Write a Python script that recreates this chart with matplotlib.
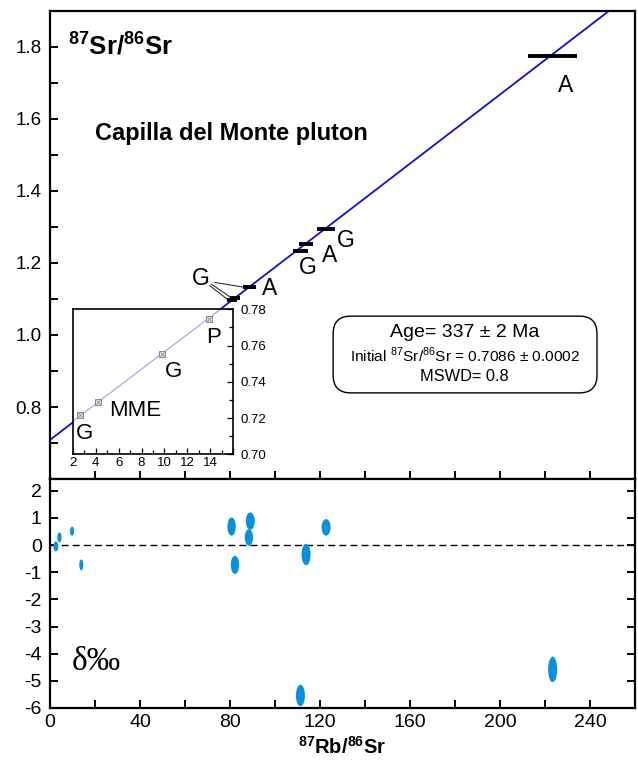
import matplotlib
matplotlib.use("Agg")
import matplotlib.pyplot as plt
import numpy as np
from matplotlib.patches import Ellipse, FancyBboxPatch
from matplotlib.ticker import MultipleLocator, FuncFormatter

plt.rcParams['font.family'] = ['Liberation Sans', 'DejaVu Sans']
plt.rcParams['axes.unicode_minus'] = False
plt.rcParams['mathtext.fontset'] = 'custom'
plt.rcParams['mathtext.rm'] = 'Liberation Sans'
plt.rcParams['mathtext.bf'] = 'Liberation Sans:bold'

# ---- data ----
rb_sr = [2.6, 4.2, 9.8, 13.9, 80.7, 82.2, 88.4, 89.0, 111.3, 113.8, 122.7, 223.4]
sr_sr = [0.7215, 0.7290, 0.7555, 0.7745, 1.0965, 1.1020, 1.1320, 1.1345,
         1.2345, 1.2540, 1.2950, 1.7760]
rb_err = [0.1, 0.1, 0.1, 0.1, 2.2, 2.2, 2.6, 2.6, 3.5, 3.3, 4.0, 11.0]
delta = [-0.05, 0.28, 0.51, -0.73, 0.68, -0.73, 0.28, 0.88, -5.54, -0.35, 0.65, -4.58]
delta_w = [2.2, 1.9, 1.8, 1.8, 3.7, 3.7, 3.7, 4.0, 4.0, 4.0, 4.0, 4.0]
delta_h = [0.37, 0.37, 0.34, 0.40, 0.67, 0.67, 0.61, 0.64, 0.79, 0.79, 0.61, 0.94]

initial_ratio = 0.7086
age_ma = 337
decay_const = 1.42e-11
slope = np.exp(decay_const * age_ma * 1e6) - 1

W, H = 638, 767
fig = plt.figure(figsize=(W / 100, H / 100), dpi=100)

def frac(l, t, r, b):
    return [l / W, 1 - b / H, (r - l) / W, (b - t) / H]

ax = fig.add_axes(frac(50, 11, 635, 479))
axd = fig.add_axes(frac(50, 479, 635, 708))
axi = fig.add_axes(frac(72.7, 309.3, 233.3, 454.3))

blue = '#1010cc'
for a in (ax, axd, axi):
    for s in a.spines.values():
        s.set_linewidth(1.6 if a is not axi else 1.2)

# ---- main isochron ----
xl = np.array([0, 260])
ax.plot(xl, initial_ratio + slope * xl, color=blue, lw=1.3, zorder=2)
big = [i for i, x in enumerate(rb_sr) if x > 20]
ax.errorbar([rb_sr[i] for i in big], [sr_sr[i] for i in big],
            xerr=[rb_err[i] for i in big], fmt='none', ecolor='black',
            elinewidth=2.8, capsize=0, zorder=3)
ax.set_xlim(0, 260)
ax.set_ylim(0.6, 1.9)
ax.yaxis.set_major_locator(MultipleLocator(0.2))
ax.yaxis.set_minor_locator(MultipleLocator(0.1))
ax.yaxis.set_major_formatter(FuncFormatter(lambda v, p: f"{v:.1f}" if v > 0.65 else ""))
ax.xaxis.set_major_locator(MultipleLocator(20))
ax.tick_params(axis='both', which='both', direction='in', width=1.4,
               labelsize=13.5, top=False, right=False)
ax.tick_params(axis='y', which='major', length=6)
ax.tick_params(axis='y', which='minor', length=6)
ax.tick_params(axis='x', which='major', length=6, labelbottom=False)
ax.tick_params(axis='y', pad=6)

ax.text(0.031, 0.905, r'$\mathbf{^{87}Sr/^{86}Sr}$', transform=ax.transAxes,
        fontsize=18.5, ha='left', va='baseline')
ax.text(0.077, 0.724, 'Capilla del Monte pluton', transform=ax.transAxes,
        fontsize=17, fontweight='bold', ha='left', va='baseline')

lab_kw = dict(fontsize=16.5, ha='center', va='center')
ax.text(229.3, 1.692, 'A', **lab_kw)
ax.text(114.7, 1.187, 'G', **lab_kw)
ax.text(124.4, 1.221, 'A', **lab_kw)
ax.text(131.5, 1.262, 'G', **lab_kw)
ax.text(97.8, 1.129, 'A', **lab_kw)
ax.text(67.0, 1.158, 'G', **lab_kw)
# leader lines from G label
starts = [(73.3, 1.146), (71.8, 1.141), (71.0, 1.137)]
targets = [6, 5, 4]
for (sx, sy), i in zip(starts, targets):
    ax.plot([sx, rb_sr[i] - rb_err[i] * 0.6], [sy, sr_sr[i]], color='#333333',
            lw=0.8, zorder=2)

box = FancyBboxPatch((0.484, 0.184), 0.451, 0.164, transform=ax.transAxes,
                     boxstyle='round,pad=0,rounding_size=0.03',
                     facecolor='white', edgecolor='black', lw=1.0,
                     mutation_aspect=1.25)
ax.add_patch(box)
ax.text(0.709, 0.312, 'Age= 337 ± 2 Ma', transform=ax.transAxes, fontsize=14,
        ha='center', va='center')
ax.text(0.709, 0.265, r'Initial $^{87}$Sr/$^{86}$Sr = 0.7086 ± 0.0002',
        transform=ax.transAxes, fontsize=11.1, ha='center', va='center')
ax.text(0.709, 0.220, 'MSWD= 0.8', transform=ax.transAxes, fontsize=11.8,
        ha='center', va='center')

# ---- inset ----
xi = np.array([2, 16])
axi.plot(xi, initial_ratio + slope * xi, color='#a9a9e8', lw=0.9, zorder=1)
small = [i for i, x in enumerate(rb_sr) if x < 20]
axi.plot([rb_sr[i] for i in small], [sr_sr[i] for i in small], 's', ms=4,
         mfc='#dddddd', mec='#888888', mew=0.7, zorder=3)
axi.plot([rb_sr[i] for i in small], [sr_sr[i] for i in small], 'x', ms=2.5,
         color='#888888', mew=0.5, zorder=4)
axi.set_xlim(2, 16)
axi.set_ylim(0.70, 0.78)
axi.xaxis.set_major_locator(MultipleLocator(2))
axi.xaxis.set_minor_locator(MultipleLocator(1))
axi.yaxis.set_major_locator(MultipleLocator(0.02))
axi.yaxis.set_minor_locator(MultipleLocator(0.01))
axi.yaxis.set_major_formatter(FuncFormatter(lambda v, p: f"{v:.2f}"))
axi.xaxis.set_major_formatter(FuncFormatter(lambda v, p: f"{v:.0f}" if v < 15 else ""))
axi.yaxis.tick_right()
axi.tick_params(axis='both', which='both', direction='in', labelsize=9.5, width=0.9,
                left=False, top=False)
axi.tick_params(axis='both', which='major', length=4, pad=2)
axi.tick_params(axis='both', which='minor', length=3)
axi.tick_params(axis='y', pad=5)
ilab = dict(fontsize=16, ha='center', va='center')
axi.text(14.29, 0.7642, 'P', **ilab)
axi.text(10.79, 0.7456, 'G', **ilab)
axi.text(7.45, 0.7244, 'MME', **ilab)
axi.text(3.02, 0.7116, 'G', **ilab)
axi.set_zorder(5)

# ---- delta panel ----
axd.axhline(0, color='black', lw=1.0, ls=(0, (5, 3)), zorder=1)
for x, d, w, h in zip(rb_sr, delta, delta_w, delta_h):
    axd.add_patch(Ellipse((x, d), w, h, facecolor='#0a8fdc', edgecolor='none',
                          zorder=3))
axd.set_xlim(0, 260)
axd.set_ylim(-6, 2.43)
axd.xaxis.set_major_locator(MultipleLocator(20))
axd.xaxis.set_major_formatter(FuncFormatter(lambda v, p: f"{v:.0f}" if round(v) % 40 == 0 else ""))
axd.yaxis.set_major_locator(MultipleLocator(1))
axd.tick_params(axis='both', which='both', direction='in', width=1.4, length=6,
                labelsize=14, right=True, top=False)
axd.tick_params(axis='y', pad=6)
axd.tick_params(axis='x', pad=4)
axd.text(0.037, 0.166, 'δ‰', transform=axd.transAxes, fontsize=24,
         family=['Liberation Serif', 'DejaVu Serif'], ha='left', va='baseline')
axd.set_xlabel(r'$\mathbf{^{87}Rb/^{86}Sr}$', fontsize=14.5, labelpad=4)

fig.savefig('out.png', dpi=100)
